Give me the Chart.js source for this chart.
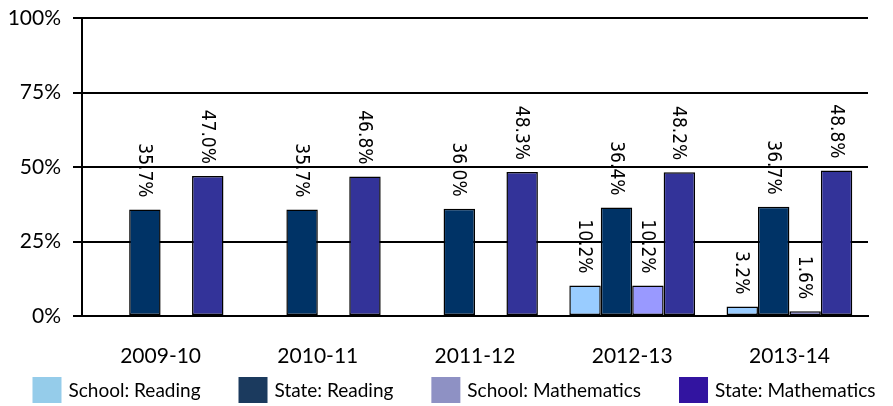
<!DOCTYPE html>
<html>
<head>
<meta charset="utf-8">
<script src="https://cdn.jsdelivr.net/npm/chart.js@4.4.1/dist/chart.umd.min.js"></script>
<style>
  html, body { margin: 0; padding: 0; background: #fff; }
  #wrap { width: 893px; height: 406px; }
</style>
</head>
<body>
<div id="wrap"><canvas id="cvsResultados"></canvas></div>
<script>
// datos
const anios = ['2009-10', '2010-11', '2011-12', '2012-13', '2013-14'];
const escuelaLectura = [null, null, null, 10.2, 3.2];
const estadoLectura = [35.7, 35.7, 36.0, 36.4, 36.7];
const escuelaMate = [null, null, null, 10.2, 1.6];
const estadoMate = [47.0, 46.8, 48.3, 48.2, 48.8];
const ticksY = [0, 25, 50, 75, 100];

const nombres = ['School: Reading', 'State: Reading', 'School: Mathematics', 'State: Mathematics'];
const coloresBarra = ['#99CCFF', '#003366', '#9999FF', '#333399'];
const coloresLeyenda = ['#95CCEA', '#1B3A5E', '#8E91C4', '#3214A0'];

// ! etiquetas giradas encima de cada barra
const etiquetas = {
  id: 'etiquetas',
  afterDatasetsDraw(chart) {
    const ctx = chart.ctx;
    ctx.save();
    ctx.fillStyle = '#000';
    ctx.font = '19px "DejaVu Sans Condensed", "DejaVu Sans", sans-serif';
    ctx.textBaseline = 'middle';
    ctx.textAlign = 'left';
    chart.data.datasets.forEach((ds, i) => {
      chart.getDatasetMeta(i).data.forEach((bar, j) => {
        const v = ds.data[j];
        if (v === null) return;
        const txt = v.toFixed(1) + '%';
        ctx.save();
        ctx.translate(bar.x - 1, bar.y - 12);
        ctx.rotate(Math.PI / 2);
        ctx.fillText(txt, -ctx.measureText(txt).width, 0);
        ctx.restore();
      });
    });
    ctx.restore();
  }
};

// ! leyenda abajo, dibujada a mano para controlar los espacios
const leyenda = {
  id: 'leyenda',
  afterDraw(chart) {
    const ctx = chart.ctx;
    const caja = 29, alto = 26, sep = 7, hueco = 38;
    const yc = 390;
    ctx.save();
    ctx.font = '19px Lato, sans-serif';
    ctx.textBaseline = 'middle';
    ctx.textAlign = 'left';
    const anchos = chart.data.datasets.map(ds => ctx.measureText(ds.label).width);
    const total = anchos.reduce((a, w) => a + caja + sep + w, 0) + hueco * (anchos.length - 1);
    let x = 454 - total / 2;
    chart.data.datasets.forEach((ds, i) => {
      ctx.fillStyle = coloresLeyenda[i];
      ctx.fillRect(x, yc - alto / 2, caja, alto);
      ctx.fillStyle = '#000';
      ctx.fillText(ds.label, x + caja + sep, yc + 1);
      x += caja + sep + anchos[i] + hueco;
    });
    ctx.restore();
  }
};

const datasets = nombres.map((n, i) => ({
  label: n,
  data: [escuelaLectura, estadoLectura, escuelaMate, estadoMate][i],
  backgroundColor: coloresBarra[i],
  borderColor: '#000',
  borderWidth: 1.5,
  borderSkipped: false,
  categoryPercentage: 0.8,
  barPercentage: 1.0
}));

new Chart(document.getElementById('cvsResultados'), {
  type: 'bar',
  data: { labels: anios, datasets: datasets },
  options: {
    responsive: true,
    maintainAspectRatio: false,
    animation: false,
    layout: { padding: { left: 0, right: 25, top: 18, bottom: 0 } },
    scales: {
      x: {
        grid: { display: false, drawTicks: false },
        border: { display: true, color: '#000', width: 2 },
        ticks: { color: '#000', padding: 28, font: { family: 'Lato', size: 21 } },
        afterFit(scale) { scale.height = 90; }
      },
      y: {
        min: 0,
        max: 100,
        afterBuildTicks(scale) { scale.ticks = ticksY.map(v => ({ value: v })); },
        grid: { color: '#000', lineWidth: 2, tickLength: 9 },
        border: { display: true, color: '#000', width: 2 },
        ticks: {
          color: '#000',
          padding: 12,
          font: { family: 'Lato', size: 21 },
          callback: v => v + '%'
        },
        afterFit(scale) {
          scale.width = 82;
          scale.paddingTop = 0;
          scale.paddingBottom = 0;
        }
      }
    },
    plugins: {
      tooltip: { enabled: false },
      legend: { display: false }
    }
  },
  plugins: [etiquetas, leyenda]
});
</script>
</body>
</html>
